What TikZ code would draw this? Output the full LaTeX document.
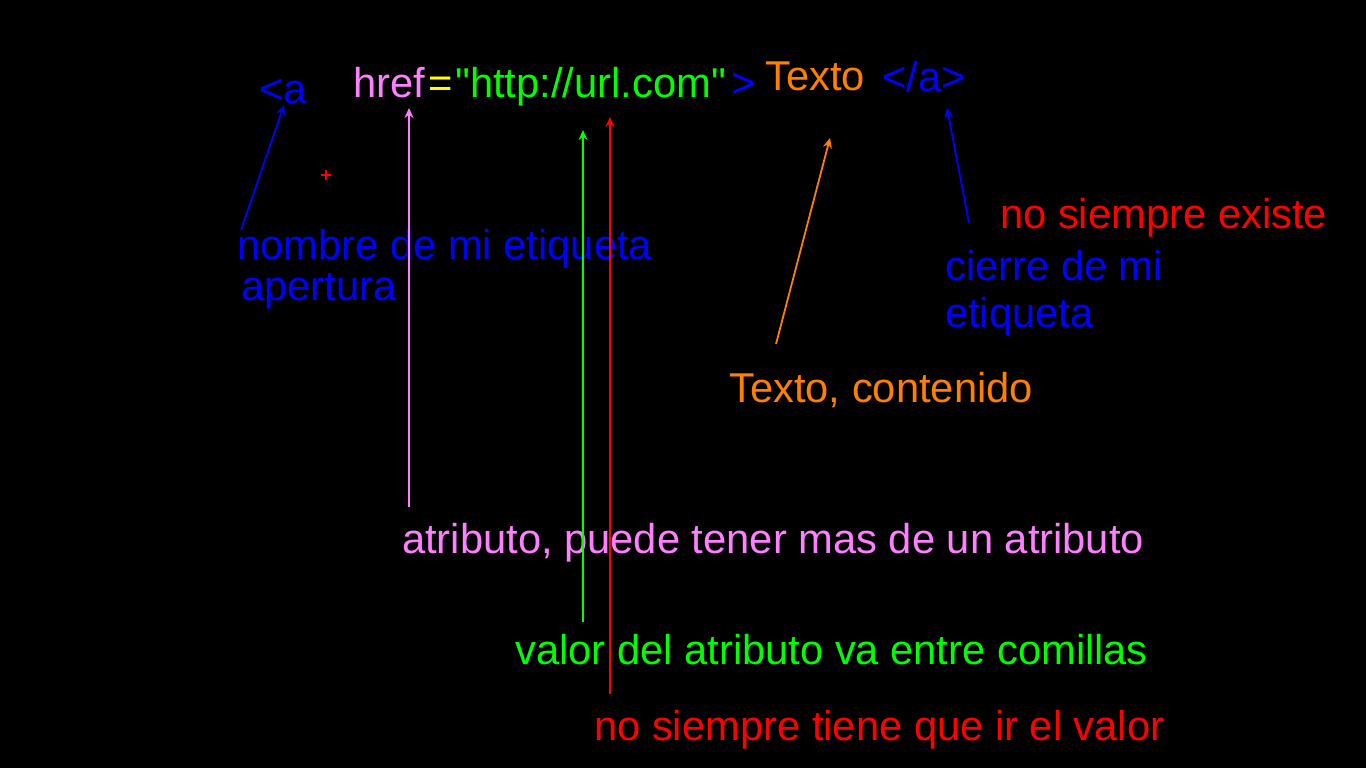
\documentclass[tikz,border=0pt]{standalone}
\usepackage{fontspec}
\setmainfont{Liberation Sans}[Ligatures=TeXOff]
\usetikzlibrary{arrows.meta}
\definecolor{blueC}{RGB}{0,0,255}
\definecolor{pinkC}{RGB}{255,128,255}
\definecolor{yellowC}{RGB}{255,255,0}
\definecolor{greenC}{RGB}{0,255,0}
\definecolor{orangeC}{RGB}{255,128,0}
\definecolor{redC}{RGB}{255,0,0}
\begin{document}
\begin{tikzpicture}[x=1pt,y=-1pt,
  txt/.style={anchor=base west,inner sep=0pt,font=\fontsize{41.7}{48}\selectfont},
  arr/.style={-{Stealth[length=10pt,width=9pt]},line width=1.8pt}]
\fill[black] (0,0) rectangle (1366,768);
\useasboundingbox (0,0) rectangle (1366,768);
% top line
\node[txt,blueC] (lt) at (259,103) {<a};
\node[txt,pinkC] (href) at (353,98) {href};
\node[txt,yellowC] (eq) at (428,98) {=};
\node[txt,greenC] (url) at (455,98) {"http://url.com"};
\node[txt,blueC] (gt) at (731,98) {>};
\node[txt,orangeC] (texto) at (765,91) {Texto};
\node[txt,blueC] (close) at (882,92) {</a>};
% labels
\node[txt,blueC] (nombre) at (237,259) {nombre de mi etiqueta};
\node[txt,blueC] (apert) at (241,300) {apertura};
\node[txt,redC] (nosiempre) at (1000,228) {no siempre existe};
\node[txt,blueC] (cierre1) at (945,280) {cierre de mi};
\node[txt,blueC] (cierre2) at (945,327) {etiqueta};
\node[txt,orangeC] (contenido) at (729,402) {Texto, contenido};
\node[txt,pinkC] (atrib) at (402,553) {atributo, puede tener mas de un atributo};
\node[txt,greenC] (valor) at (515,664) {valor del atributo va entre comillas};
\node[txt,redC] (novalor) at (594,740) {no siempre tiene que ir el valor};
% arrow ends
\coordinate (a1s) at (241,230); \coordinate (a1e) at (284,105);
\coordinate (a2s) at (409,507); \coordinate (a2e) at (409,108);
\coordinate (a3s) at (583,622); \coordinate (a3e) at (583,130);
\coordinate (a4s) at (610,694); \coordinate (a4e) at (610,117);
\coordinate (a5s) at (776,344); \coordinate (a5e) at (830,138);
\coordinate (a6s) at (969,223); \coordinate (a6e) at (947,108);
\draw[arr,blueC] (a1s) -- (a1e);
\draw[arr,pinkC] (a2s) -- (a2e);
\draw[arr,greenC] (a3s) -- (a3e);
\draw[arr,redC] (a4s) -- (a4e);
\draw[arr,orangeC] (a5s) -- (a5e);
\draw[arr,blueC] (a6s) -- (a6e);
% stray plus mark
\coordinate (plus) at (326,175);
\draw[redC,line width=1.6pt] ([xshift=-5pt]plus) -- ([xshift=5pt]plus) ([yshift=-5pt]plus) -- ([yshift=5pt]plus);
\end{tikzpicture}
\end{document}
